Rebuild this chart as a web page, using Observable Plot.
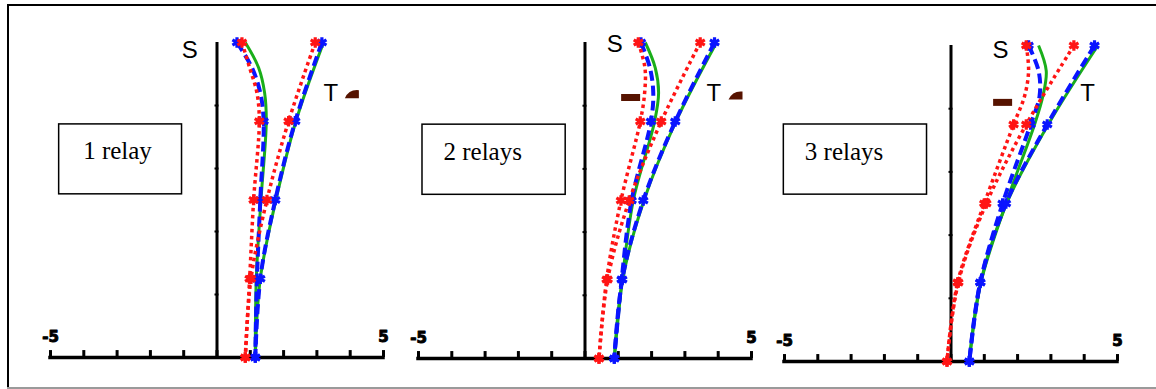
<!DOCTYPE html>
<html><head><meta charset="utf-8">
<script src="https://cdn.jsdelivr.net/npm/d3@7"></script>
<script src="https://cdn.jsdelivr.net/npm/@observablehq/plot@0.6"></script>
<style>
html,body{margin:0;padding:0;background:#fff;}
#wrap{position:relative;width:1156px;height:389px;overflow:hidden;background:#fff;}
#wrap svg{position:absolute;left:0;top:0;}
.bt{position:absolute;left:7px;top:4px;width:1149px;height:2px;background:#000;}
.bl{position:absolute;left:7px;top:4px;width:2px;height:385px;background:#000;}
.bb{position:absolute;left:7px;top:387px;width:1149px;height:2px;background:#9a9a9a;}
</style></head><body>
<div id="wrap"><div class="bt"></div><div class="bl"></div><div class="bb"></div></div>
<script>
// ---- data ----
const panelLabels = ["1 relay", "2 relays", "3 relays"];
const xTicks = [-5, -4, -3, -2, -1, 0, 1, 2, 3, 4, 5];
const xTickLabels = [-5, 5];
const yTicks = [1, 2, 3, 4];
const yS = [5, 4.6, 4.2, 3.75, 2.5, 1.25, 0];   // S-curves (read at extra levels near the top)
const yT = [5, 3.75, 2.5, 1.25, 0];             // T-curves / marker levels

// panel 1 (1 relay)
const p1SRed   = [0.75, 0.98, 1.20, 1.27, 1.10, 0.98, 0.85];
const p1SBlue  = [0.60, 1.05, 1.30, 1.40, 1.30, 1.20, 1.15];
const p1SGreen = [0.85, 1.25, 1.43, 1.48, 1.32, 1.18, 1.15];
const p1TRed   = [2.95, 2.15, 1.50, 1.02, 0.85];
const p1TBlue  = [3.15, 2.35, 1.75, 1.30, 1.15];
const p1TGreen = [3.20, 2.37, 1.77, 1.30, 1.15];
// panel 2 (2 relays)
const p2SRed   = [1.60, 1.80, 1.79, 1.66, 1.08, 0.65, 0.42];
const p2SBlue  = [1.68, 1.95, 2.05, 1.98, 1.40, 1.10, 0.88];
const p2SGreen = [1.81, 2.11, 2.21, 2.09, 1.45, 1.12, 0.88];
const p2TRed   = [3.46, 2.29, 1.33, 0.68, 0.42];
const p2TBlue  = [3.89, 2.71, 1.75, 1.12, 0.88];
const p2TGreen = [3.95, 2.73, 1.77, 1.13, 0.88];
// panel 3 (3 relays)
const p3SRed   = [2.26, 2.33, 2.21, 1.88, 1.00, 0.20, -0.12];
const p3SBlue  = [2.33, 2.63, 2.66, 2.39, 1.55, 0.88, 0.55];
const p3SGreen = [2.63, 2.86, 2.76, 2.51, 1.65, 0.90, 0.55];
const p3TRed   = [3.69, 2.26, 1.06, 0.22, -0.12];
const p3TBlue  = [4.31, 2.89, 1.65, 0.88, 0.55];
const p3TGreen = [4.41, 2.92, 1.67, 0.89, 0.55];

// annotation positions (data units)
const sLabelPos = [[-0.82, 4.88], [0.89, 4.97], [1.49, 4.93]];
const tLabelPos = [[3.42, 4.20], [3.87, 4.20], [4.10, 4.25]];
const boxPos = [[-4.74, -1.05, 2.59, 3.70], [-4.88, -0.58, 2.59, 3.70], [-5.02, -0.72, 2.64, 3.75]];
const boxTextPos = [[-4.02, 3.27], [-4.25, 3.26], [-4.39, 3.31]];
const halfDiskPos = [[4.05, 4.18], [4.52, 4.16], null];
const dashPos = [null, [1.37, 4.13], [1.55, 4.10]];

// layout (pixel margins for each overlaid panel)
const layout = [
  {ml: 50, mr: 773, mt: 42, mb: 32},
  {ml: 418, mr: 405, mt: 42, mb: 31},
  {ml: 784, mr: 39, mt: 45, mb: 28}
];

const panels = [
  {S: [p1SRed, p1SBlue, p1SGreen], T: [p1TRed, p1TBlue, p1TGreen]},
  {S: [p2SRed, p2SBlue, p2SGreen], T: [p2TRed, p2TBlue, p2TGreen]},
  {S: [p3SRed, p3SBlue, p3SGreen], T: [p3TRed, p3TBlue, p3TGreen]}
];

const RED = "#ff1414", BLUE = "#0a14ff", GREEN = "#1aae1a", BROWN = "#561300";

const toPts = (xs, ys) => xs.map((x, i) => ({x, y: ys[i]}));
const markPts = (pts) => pts.filter(p => yT.includes(p.y));

const halfDisk = {draw(ctx) {
  ctx.moveTo(-7, 4); ctx.lineTo(7, 4); ctx.lineTo(7, -4);
  ctx.quadraticCurveTo(-3, -5, -7, 4); ctx.closePath();
}};
const dashSym = {draw(ctx) { ctx.rect(-9.5, -3.5, 19, 7); }};

const wrap = document.getElementById("wrap");

panels.forEach((p, k) => {
  const L = layout[k];
  const sRed = toPts(p.S[0], yS), sBlue = toPts(p.S[1], yS), sGreen = toPts(p.S[2], yS);
  const tRed = toPts(p.T[0], yT), tBlue = toPts(p.T[1], yT), tGreen = toPts(p.T[2], yT);
  const lineOpts = {x: "x", y: "y", curve: "catmull-rom", strokeLinecap: "butt"};
  const marks = [
    // axes
    Plot.ruleY([{y: 0, x1: -5, x2: 5}], {y: "y", x1: "x1", x2: "x2", stroke: "#000", strokeWidth: 3.5, strokeLinecap: "square"}),
    Plot.ruleX(xTicks, {x: d => d, y1: d => 0, y2: d => 0.11, stroke: "#000", strokeWidth: 3}),
    Plot.ruleX([{x: 0, y1: 0, y2: 5}], {x: "x", y1: "y1", y2: "y2", stroke: "#000", strokeWidth: 3}),
    Plot.ruleY(yTicks, {y: d => d, x1: d => -0.06, x2: d => 0.06, stroke: "#000", strokeWidth: 2}),
    Plot.text(xTickLabels, {x: d => d, y: d => 0.32, text: d => (d < 0 ? "-" : "") + Math.abs(d),
      fontFamily: "DejaVu Sans", fontWeight: "bold", fontSize: 15, fill: "#000", stroke: "#000", strokeWidth: 1}),
    // curves
    Plot.line(sGreen, {...lineOpts, stroke: GREEN, strokeWidth: 3}),
    Plot.line(tGreen, {...lineOpts, stroke: GREEN, strokeWidth: 3}),
    Plot.line(sBlue, {...lineOpts, stroke: BLUE, strokeWidth: 4, strokeDasharray: "10,5"}),
    Plot.line(tBlue, {...lineOpts, stroke: BLUE, strokeWidth: 4, strokeDasharray: "10,5"}),
    Plot.line(sRed, {...lineOpts, stroke: RED, strokeWidth: 3.5, strokeDasharray: "3.5,3.5"}),
    Plot.line(tRed, {...lineOpts, stroke: RED, strokeWidth: 3.5, strokeDasharray: "3.5,3.5"}),
    Plot.dot(markPts(sBlue).concat(tBlue), {x: "x", y: "y", symbol: "asterisk", r: 5, stroke: BLUE, strokeWidth: 3.2}),
    Plot.dot(markPts(sRed).concat(tRed), {x: "x", y: "y", symbol: "asterisk", r: 5, stroke: RED, strokeWidth: 3.2}),
    // labels
    Plot.text([sLabelPos[k]], {x: d => d[0], y: d => d[1], text: d => "S", fontFamily: "Liberation Sans", fontSize: 24, fill: "#000"}),
    Plot.text([tLabelPos[k]], {x: d => d[0], y: d => d[1], text: d => "T", fontFamily: "Liberation Sans", fontSize: 24, fill: "#000"}),
    Plot.rect([boxPos[k]], {x1: d => d[0], x2: d => d[1], y1: d => d[2], y2: d => d[3], fill: "white", stroke: "#000", strokeWidth: 1.5}),
    Plot.text([boxTextPos[k]], {x: d => d[0], y: d => d[1], text: d => panelLabels[k], textAnchor: "start",
      fontFamily: "Liberation Serif", fontSize: 25, fill: "#000"})
  ];
  if (halfDiskPos[k]) marks.push(Plot.dot([halfDiskPos[k]], {x: d => d[0], y: d => d[1], symbol: halfDisk, r: 5, fill: BROWN, stroke: null}));
  if (dashPos[k]) marks.push(Plot.dot([dashPos[k]], {x: d => d[0], y: d => d[1], symbol: dashSym, r: 5, fill: BROWN, stroke: null}));

  const svg = Plot.plot({
    width: 1156, height: 389,
    marginLeft: L.ml, marginRight: L.mr, marginTop: L.mt, marginBottom: L.mb,
    style: "background:transparent;overflow:visible",
    x: {domain: [-5, 5], axis: null},
    y: {domain: [0, 5], axis: null},
    marks
  });
  wrap.appendChild(svg);
});
</script>
</body></html>
